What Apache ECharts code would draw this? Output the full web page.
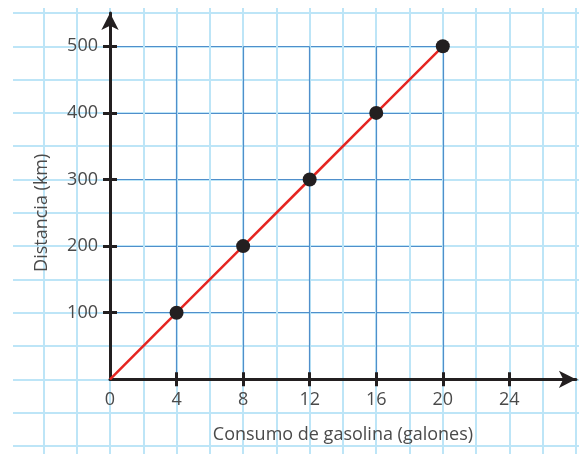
<!DOCTYPE html>
<html>
<head>
<meta charset="utf-8">
<script src="https://cdn.jsdelivr.net/npm/echarts@6/dist/echarts.min.js"></script>
<style>
html,body{margin:0;padding:0;background:#fff;}
#c{width:579px;height:454px;}
</style>
</head>
<body>
<div id="c"></div>
<script>
// Data
const gallons = [0, 4, 8, 12, 16, 20];
const distanceKm = [0, 100, 200, 300, 400, 500];
const markedGallons = [4, 8, 12, 16, 20];
const markedDistance = [100, 200, 300, 400, 500];
const xTickLabels = [0, 4, 8, 12, 16, 20, 24];
const xTicks = [4, 8, 12, 16, 20, 24];
const yTicks = [100, 200, 300, 400, 500];
const xTitle = 'Consumo de gasolina (galones)';
const yTitle = 'Distancia (km)';

const LIGHT = '#bde5f7';
const DARK = '#4f8fcb';
const AX = '#231f20';
const TXT = '#4a4a4a';
const FONT = 'Open Sans';

const ux = 16.64, uy = 0.666;
const x0 = 110, y0 = 379.3;

const chart = echarts.init(document.getElementById('c'), null, {renderer: 'canvas'});
const hidden = {show: false};
const off = {axisLine: hidden, axisTick: hidden, axisLabel: hidden};

chart.setOption({
  animation: false,
  grid: [
    {left: 13, top: y0 - 550 * uy, width: 566, height: 650 * uy},
    {left: x0 - 4 * ux, top: 8, width: 32 * ux, height: 446},
    {left: x0, top: y0 - 500 * uy, width: 20 * ux, height: 500 * uy},
    {left: x0, top: y0 - 550 * uy, width: 28 * ux, height: 550 * uy}
  ],
  xAxis: [
    Object.assign({type: 'value', gridIndex: 0, min: 0, max: 1, splitLine: hidden}, off),
    Object.assign({type: 'value', gridIndex: 1, min: -4, max: 28, interval: 2,
      splitLine: {show: true, lineStyle: {color: LIGHT, width: 2}}}, off),
    Object.assign({type: 'value', gridIndex: 2, min: 0, max: 20, interval: 4,
      splitLine: {show: true, lineStyle: {color: DARK, width: 1.2}}}, off),
    {type: 'value', gridIndex: 3, min: 0, max: 28, position: 'bottom',
      splitLine: hidden,
      axisLine: {show: true, lineStyle: {color: AX, width: 3}, symbol: ['none', 'arrow'], symbolSize: [13, 17]},
      axisTick: {show: true, length: 7, lineStyle: {color: AX, width: 3}, customValues: xTicks},
      axisLabel: {show: true, customValues: xTickLabels, margin: 12, color: TXT, fontSize: 18, fontFamily: FONT},
      name: xTitle, nameLocation: 'middle', nameGap: 47,
      nameTextStyle: {color: TXT, fontSize: 18, fontFamily: FONT}
    },
    {type: 'value', gridIndex: 3, min: 0, max: 28, position: 'bottom', offset: 0,
      splitLine: hidden, axisLine: hidden,
      axisTick: {show: true, inside: true, length: 7, lineStyle: {color: AX, width: 3}, customValues: xTicks},
      axisLabel: hidden
    }
  ],
  yAxis: [
    Object.assign({type: 'value', gridIndex: 0, min: -100, max: 550, interval: 50,
      splitLine: {show: true, lineStyle: {color: LIGHT, width: 2}}}, off),
    Object.assign({type: 'value', gridIndex: 1, min: 0, max: 1, splitLine: hidden}, off),
    Object.assign({type: 'value', gridIndex: 2, min: 0, max: 500, interval: 100,
      splitLine: {show: true, lineStyle: {color: DARK, width: 1.2}},
      name: yTitle, nameLocation: 'middle', nameGap: 59, nameRotate: 90,
      nameTextStyle: {color: TXT, fontSize: 18, fontFamily: FONT}}, off),
    {type: 'value', gridIndex: 3, min: 0, max: 550, position: 'left',
      splitLine: hidden,
      axisLine: {show: true, lineStyle: {color: AX, width: 3}, symbol: ['none', 'arrow'], symbolSize: [13, 17]},
      axisTick: {show: true, length: 7, lineStyle: {color: AX, width: 3}, customValues: yTicks},
      axisLabel: {show: true, customValues: yTicks, margin: 12, color: TXT, fontSize: 18, fontFamily: FONT}
    },
    {type: 'value', gridIndex: 3, min: 0, max: 550, position: 'left', offset: 0,
      splitLine: hidden, axisLine: hidden,
      axisTick: {show: true, inside: true, length: 7, lineStyle: {color: AX, width: 3}, customValues: yTicks},
      axisLabel: hidden
    }
  ],
  series: [
    {type: 'line', xAxisIndex: 3, yAxisIndex: 3, z: 5,
      data: gallons.map((g, i) => [g, distanceKm[i]]),
      showSymbol: false, lineStyle: {color: '#e52521', width: 2.5}},
    {type: 'scatter', xAxisIndex: 3, yAxisIndex: 3, z: 6,
      data: markedGallons.map((g, i) => [g, markedDistance[i]]),
      symbol: 'circle', symbolSize: 14, itemStyle: {color: AX, opacity: 1}}
  ]
});
</script>
</body>
</html>
